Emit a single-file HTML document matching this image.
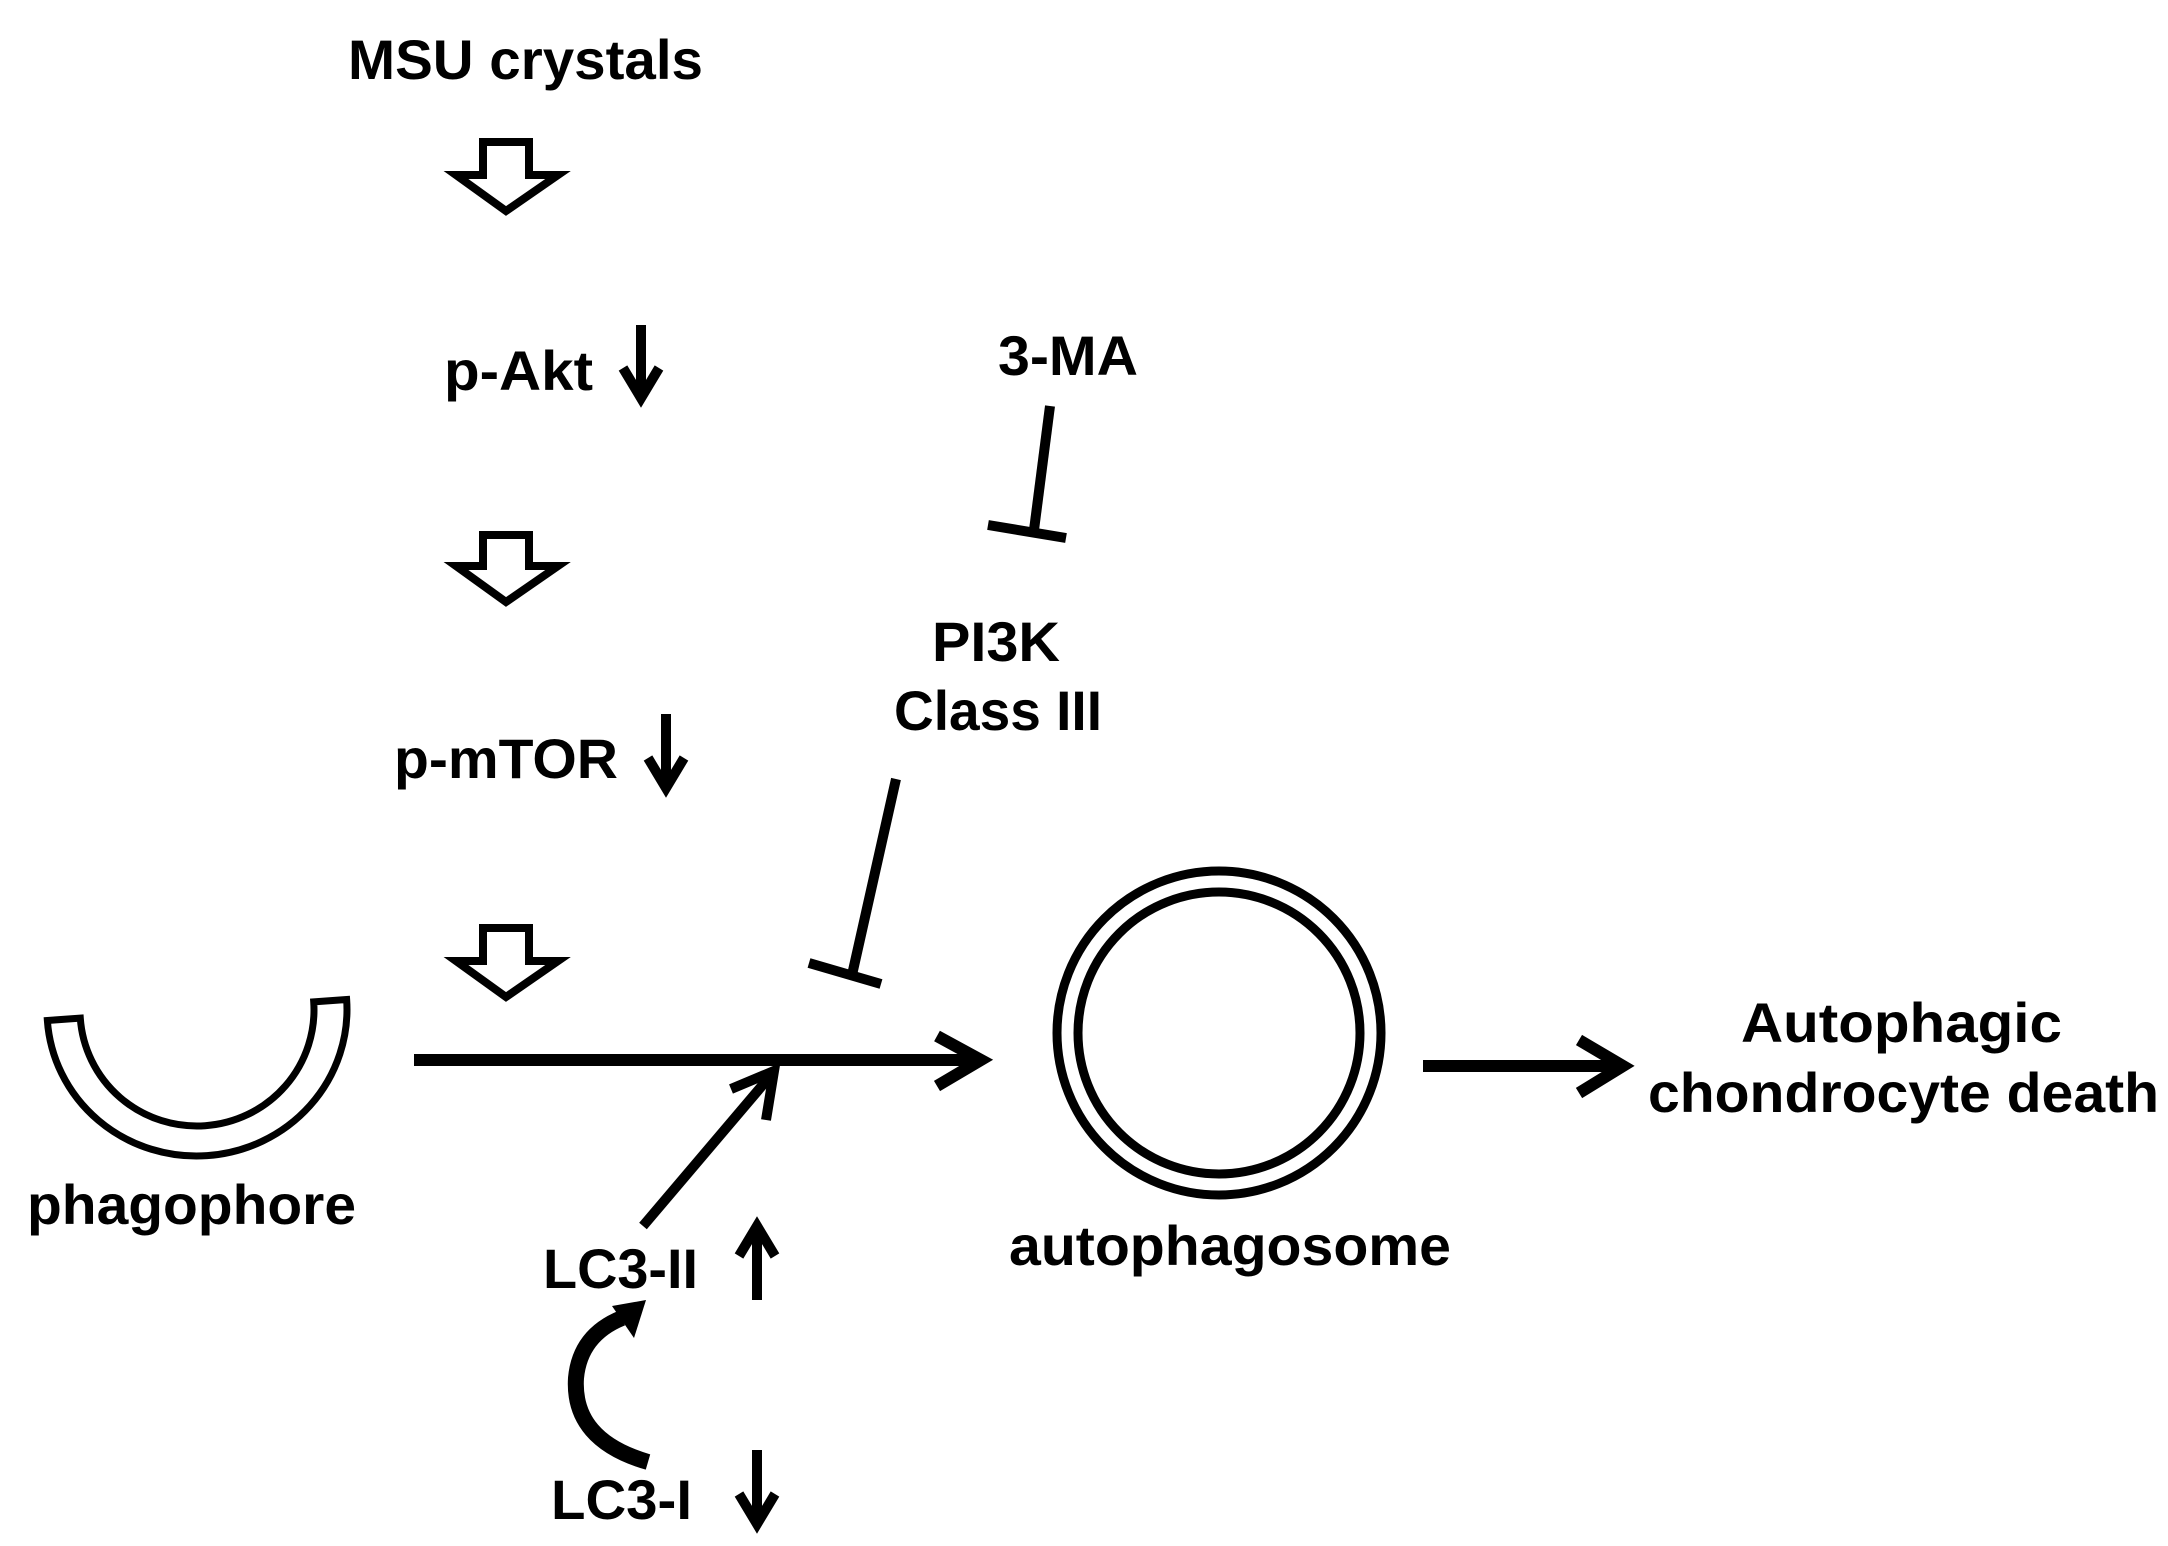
<!DOCTYPE html>
<html><head><meta charset="utf-8"><style>
html,body{margin:0;padding:0;background:#fff;}
svg{display:block;}
text{font-family:"Liberation Sans",Arial,sans-serif;font-weight:bold;font-size:56px;fill:#000;}
</style></head><body>
<svg width="2168" height="1546" viewBox="0 0 2168 1546" xmlns="http://www.w3.org/2000/svg">
<rect width="2168" height="1546" fill="#fff"/>
<text x="348" y="79" textLength="355" lengthAdjust="spacingAndGlyphs">MSU crystals</text>
<text x="444" y="390" textLength="149" lengthAdjust="spacingAndGlyphs">p-Akt</text>
<text x="998" y="375" textLength="140" lengthAdjust="spacingAndGlyphs">3-MA</text>
<text x="932" y="661" textLength="128" lengthAdjust="spacingAndGlyphs">PI3K</text>
<text x="894" y="730" textLength="208" lengthAdjust="spacingAndGlyphs">Class III</text>
<text x="394" y="778" textLength="224" lengthAdjust="spacingAndGlyphs">p-mTOR</text>
<text x="27" y="1224" textLength="329" lengthAdjust="spacingAndGlyphs">phagophore</text>
<text x="543" y="1288" textLength="155" lengthAdjust="spacingAndGlyphs">LC3-II</text>
<text x="551" y="1519" textLength="141" lengthAdjust="spacingAndGlyphs">LC3-I</text>
<text x="1009" y="1265" textLength="442" lengthAdjust="spacingAndGlyphs">autophagosome</text>
<text x="1741" y="1042" textLength="321" lengthAdjust="spacingAndGlyphs">Autophagic</text>
<text x="1648" y="1112" textLength="511" lengthAdjust="spacingAndGlyphs">chondrocyte death</text>

<g fill="#fff" stroke="#000" stroke-width="8" stroke-linejoin="miter">
<polygon points="483,142 529,142 529,175 558,175 506,211 456,175 483,175"/>
<polygon points="483,535 529,535 529,566 558,566 506,602 456,566 483,566"/>
<polygon points="483,928 529,928 529,961 558,961 506,997 456,961 483,961"/>
</g>

<g stroke="#000" stroke-width="10" fill="none" stroke-linecap="butt">
<line x1="641" y1="325" x2="641" y2="395"/>
<polyline points="623,368 641,398 659,368"/>
<line x1="666" y1="714" x2="666" y2="785"/>
<polyline points="648,758 666,788 684,758"/>
<line x1="757" y1="1300" x2="757" y2="1230"/>
<polyline points="739,1256 757,1226 775,1256"/>
<line x1="757" y1="1450" x2="757" y2="1520"/>
<polyline points="739,1494 757,1524 775,1494"/>
</g>

<g stroke="#000" stroke-width="10" fill="none">
<line x1="1050" y1="406" x2="1034" y2="530"/>
<line x1="988" y1="525" x2="1066" y2="538"/>
<line x1="896" y1="779" x2="852" y2="975"/>
<line x1="809" y1="963" x2="881" y2="984"/>
</g>

<g stroke="#000" stroke-width="12" fill="none">
<line x1="414" y1="1060" x2="980" y2="1060"/>
<polyline points="937,1036 981,1060 937,1086"/>
<line x1="1423" y1="1066" x2="1620" y2="1066"/>
<polyline points="1579,1040 1623,1066 1579,1093"/>
</g>

<g stroke="#000" stroke-width="10" fill="none">
<line x1="643" y1="1226" x2="772" y2="1074"/>
<polyline points="731,1089 774,1071 766,1120"/>
</g>

<path d="M648,1462 Q572,1440 576,1378 Q580,1335 622,1318" stroke="#000" stroke-width="16" fill="none"/>
<polygon points="646,1300 612,1306 634,1338" fill="#000"/>

<g transform="rotate(-4 197 1010)">
<path d="M47,1010 A150,146 0 0 0 347,1010 L314,1010 A117,116 0 0 1 80,1010 Z" fill="#fff" stroke="#000" stroke-width="7"/>
</g>

<circle cx="1219" cy="1033" r="162" fill="none" stroke="#000" stroke-width="9"/>
<circle cx="1219" cy="1033" r="141" fill="none" stroke="#000" stroke-width="9"/>
</svg>
</body></html>
